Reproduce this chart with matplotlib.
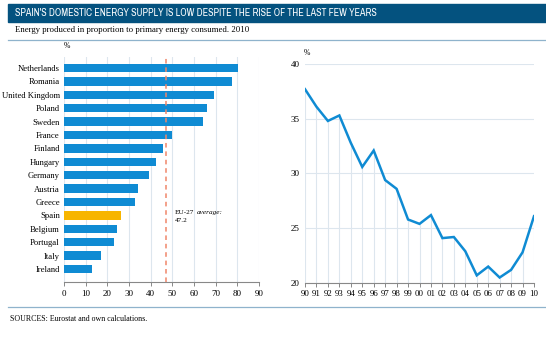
import matplotlib.pyplot as plt
from matplotlib.patches import Rectangle

# share of primary energy consumed that is produced at home, 2010
countries = ['Netherlands', 'Romania', 'United Kingdom', 'Poland', 'Sweden', 'France',
             'Finland', 'Hungary', 'Germany', 'Austria', 'Greece', 'Spain',
             'Belgium', 'Portugal', 'Italy', 'Ireland']
shares = [80.2, 77.4, 69.1, 65.9, 64.1, 49.8, 45.6, 42.4, 39.2, 34.1, 32.7,
          26.3, 24.4, 23.0, 17.0, 13.1]
eu_avg = 47.2

# Spain over time
years = list(range(1990, 2011))
spain = [37.7, 36.1, 34.8, 35.3, 32.8, 30.6, 32.1, 29.4, 28.6, 25.8, 25.4,
         26.2, 24.1, 24.2, 22.9, 20.7, 21.5, 20.5, 21.2, 22.8, 26.1]

BLUE = '#0f8bd3'
ORANGE = '#f7b500'
GRID = '#dde6ee'
SERIF = ['Liberation Serif', 'DejaVu Serif']
NARROW = ['Archivo Narrow', 'Barlow Semi Condensed', 'DejaVu Sans']

W, H = 546, 338
fig = plt.figure(figsize=(W / 100, H / 100), dpi=100)


def box(x0, y0, x1, y1):
    # pixel box (top-left origin) -> figure fraction
    return [x0 / W, 1 - y1 / H, (x1 - x0) / W, (y1 - y0) / H]


# header
fig.patches.append(Rectangle((8 / W, 1 - 22 / H), 1 - 8 / W, 18 / H,
                             transform=fig.transFigure, color='#04527f', zorder=0))
fig.text(15 / W, 1 - 13 / H,
         "SPAIN'S DOMESTIC ENERGY SUPPLY IS LOW DESPITE THE RISE OF THE LAST FEW YEARS",
         color='white', fontsize=7.2, fontweight='bold', va='center', family=NARROW)
fig.text(15 / W, 1 - 30 / H, 'Energy produced in proportion to primary energy consumed. 2010',
         fontsize=6.3, va='center', family=SERIF)
fig.add_artist(plt.Line2D([8 / W, 1], [1 - 40 / H] * 2, color='#8fb3cc', lw=0.9))
fig.add_artist(plt.Line2D([8 / W, 1], [1 - 307 / H] * 2, color='#8fb3cc', lw=0.9))
fig.text(10 / W, 1 - 319 / H, 'SOURCES: Eurostat and own calculations.',
         fontsize=5.7, va='center', family=SERIF)

# left: horizontal bars
ax = fig.add_axes(box(64, 57, 259, 282))
pos = list(range(len(countries)))
colors = [ORANGE if c == 'Spain' else BLUE for c in countries]
ax.barh(pos, shares, height=0.62, color=colors, zorder=3)
ax.axvline(eu_avg, color='#f0866a', lw=1.1, ls=(0, (3, 2.5)), zorder=4)
t1 = ax.text(51.3, 10.8, 'EU-27', fontsize=5.2, va='center', family=SERIF)
ax.annotate('average:', xy=(1, 0.5), xycoords=t1, xytext=(1.5, 0),
            textcoords='offset points', fontsize=5.2, va='center',
            family=SERIF, style='italic')
ax.text(51.3, 11.4, f'{eu_avg}', fontsize=5.2, va='center', family=SERIF)
ax.set_xlim(0, 90)
ax.set_ylim(15.97, -0.82)
ax.set_xticks(range(0, 100, 10))
ax.grid(axis='x', color=GRID, lw=0.8, zorder=0)
ax.set_yticks(pos, countries)
for s in ['top', 'right', 'left']:
    ax.spines[s].set_visible(False)
ax.spines['bottom'].set_color('#888888')
ax.spines['bottom'].set_linewidth(0.8)
ax.tick_params(axis='y', length=0, pad=3, labelsize=6.2)
ax.tick_params(axis='x', length=3, width=0.7, color='#888888', pad=3, labelsize=6.5)
for lab in ax.get_xticklabels() + ax.get_yticklabels():
    lab.set_family(SERIF)
fig.text(64 / W, 1 - 46 / H, '%', fontsize=5.5, family=SERIF, va='center')

# right: Spain line
ax2 = fig.add_axes(box(305, 64, 534, 283))
ax2.vlines(years, 20, spain, color=GRID, lw=0.8, zorder=1)
ax2.plot(years, spain, color=BLUE, lw=1.8, zorder=3, solid_joinstyle='miter')
ax2.set_xlim(1990, 2010)
ax2.set_ylim(20, 40)
ax2.set_yticks([20, 25, 30, 35, 40])
ax2.set_xticks(years, [f'{y % 100:02d}' for y in years])
ax2.grid(axis='y', color=GRID, lw=0.8, zorder=0)
for s in ['top', 'right', 'left']:
    ax2.spines[s].set_visible(False)
ax2.spines['bottom'].set_color('#888888')
ax2.spines['bottom'].set_linewidth(0.8)
ax2.tick_params(axis='y', length=0, pad=4, labelsize=6.5)
ax2.tick_params(axis='x', length=3, width=0.7, color='#888888', pad=2, labelsize=6.3)
for lab in ax2.get_xticklabels() + ax2.get_yticklabels():
    lab.set_family(SERIF)
fig.text(304 / W, 1 - 53 / H, '%', fontsize=5.5, family=SERIF, va='center')

fig.savefig('out.png', dpi=100)
